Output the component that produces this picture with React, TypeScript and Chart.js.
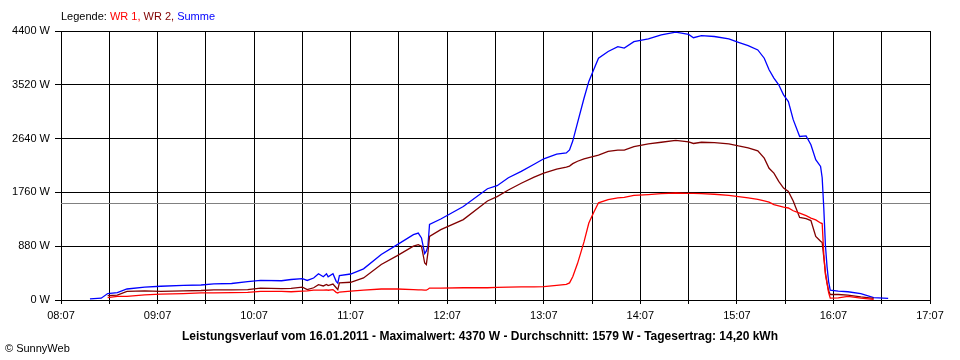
import React, { useEffect, useRef } from "react";
import { Chart, registerables } from "chart.js";

Chart.register(...registerables);

// Time of each reading (clock time)
const times = [
  "08:25", "08:32", "08:36", "08:42", "08:48", "08:59", "09:09", "09:23", "09:34", "09:42",
  "09:53", "10:03", "10:11", "10:24", "10:30", "10:37", "10:40", "10:44", "10:47", "10:50",
  "10:52", "10:53", "10:56", "10:58", "10:59", "11:00", "11:07", "11:15", "11:26", "11:36",
  "11:46", "11:49", "11:51", "11:53", "11:54", "11:55", "11:56", "12:03", "12:17", "12:32",
  "12:38", "12:45", "12:53", "13:01", "13:07", "13:15", "13:21", "13:23", "13:25", "13:28",
  "13:32", "13:35", "13:38", "13:41", "13:47", "13:53", "13:57", "14:03", "14:12", "14:20",
  "14:29", "14:37", "14:40", "14:45", "14:53", "15:02", "15:08", "15:14", "15:20", "15:24",
  "15:27", "15:30", "15:33", "15:36", "15:39", "15:42", "15:46", "15:50", "15:53", "15:56",
  "15:59", "16:00", "16:01", "16:02", "16:03", "16:04", "16:05", "16:10", "16:16", "16:24",
  "16:32", "16:41",
];

// WR 1 (W)
const wr1 = [
  null, null, 40, 60, 60, 85, 95, 105, 115, 115,
  120, 125, 140, 140, 135, 145, 150, 160, 160, 160,
  165, 160, 170, 125, 115, 130, 145, 160, 180, 180,
  170, 165, 165, 160, 160, 175, 195, 195, 200, 200,
  205, 210, 215, 215, 220, 240, 255, 280, 380, 600,
  950, 1260, 1430, 1590, 1640, 1670, 1680, 1710, 1725, 1740,
  1750, 1745, 1745, 1740, 1730, 1710, 1690, 1670, 1645, 1620,
  1600, 1560, 1540, 1520, 1505, 1460, 1420, 1380, 1340, 1310,
  1260, 1250, 750, 420, 280, 120, 30, 35, 60, 30,
  10, null,
];

// WR 2 (W)
const wr2 = [
  null, null, 70, 80, 140, 150, 140, 150, 155, 165,
  165, 170, 195, 185, 190, 210, 170, 200, 250, 230,
  255, 235, 260, 200, 170, 280, 290, 360, 580, 725,
  880, 905, 880, 605, 580, 770, 1040, 1150, 1315, 1620,
  1690, 1800, 1910, 2010, 2075, 2140, 2175, 2190, 2230, 2270,
  2310, 2330, 2350, 2370, 2430, 2450, 2450, 2510, 2555, 2580,
  2610, 2585, 2560, 2580, 2575, 2555, 2520, 2490, 2440, 2320,
  2155, 2075, 1940, 1830, 1775, 1620, 1350, 1330, 1300, 1040,
  960, 940, 700, 450, 280, 150, 90, 90, 80, 50,
  25, null,
];

// Summe (W)
const summe = [
  20, 30, 105, 120, 180, 210, 225, 240, 245, 265,
  270, 300, 320, 315, 335, 350, 320, 360, 430, 380,
  430, 380, 430, 305, 275, 400, 425, 510, 745, 905,
  1070, 1095, 1015, 760, 800, 880, 1235, 1325, 1530, 1820,
  1870, 2000, 2105, 2220, 2310, 2385, 2405, 2455, 2600, 2900,
  3300, 3575, 3765, 3955, 4065, 4145, 4120, 4225, 4270, 4335,
  4380, 4345, 4290, 4325, 4310, 4270, 4215, 4160, 4090, 3955,
  3765, 3630, 3520, 3355, 3245, 2950, 2675, 2685, 2540, 2295,
  2185, 2000, 1500, 900, 550, 300, 160, 145, 135, 105,
  40, 25,
];

const yTicks = [0, 880, 1760, 2640, 3520, 4400];
const xStart = "08:07";
const xEnd = "17:07";
const average = 1579;

const legendParts = [
  { text: "Legende: ", color: "#000000" },
  { text: "WR 1, ", color: "#ff0000" },
  { text: "WR 2, ", color: "#800000" },
  { text: "Summe", color: "#0000ff" },
];
const titleText =
  "Leistungsverlauf vom 16.01.2011 - Maximalwert: 4370 W - Durchschnitt: 1579 W - Tagesertrag: 14,20 kWh";
const copyright = "\u00A9 SunnyWeb";

const FONT = '"Liberation Sans", Arial, sans-serif';

const toMin = (t: string) => {
  const [h, m] = t.split(":").map(Number);
  return h * 60 + m;
};
const START = toMin(xStart);
const END = toMin(xEnd);
const fmt = (v: number) => {
  const t = START + v;
  const h = Math.floor(t / 60);
  const m = t % 60;
  return `${String(h).padStart(2, "0")}:${String(m).padStart(2, "0")}`;
};
const series = (vals: (number | null)[]) =>
  times.map((t, i) => ({ x: toMin(t) - START, y: vals[i] }));

const decorPlugin = {
  id: "decor",
  beforeDatasetsDraw(chart: any) {
    const { ctx, chartArea, scales } = chart;
    const y = Math.round(scales.y.getPixelForValue(average)) + 0.5;
    ctx.save();
    ctx.strokeStyle = "#808080";
    ctx.lineWidth = 1;
    ctx.beginPath();
    ctx.moveTo(chartArea.left, y);
    ctx.lineTo(chartArea.right, y);
    ctx.stroke();
    ctx.restore();
  },
  afterDraw(chart: any) {
    const { ctx } = chart;
    ctx.save();
    ctx.font = `11px ${FONT}`;
    ctx.textBaseline = "middle";
    ctx.textAlign = "left";
    let x = 61;
    for (const p of legendParts) {
      ctx.fillStyle = p.color;
      ctx.fillText(p.text, x, 17);
      x += ctx.measureText(p.text).width;
    }
    ctx.fillStyle = "#000";
    ctx.font = `bold 12px ${FONT}`;
    ctx.textAlign = "center";
    ctx.fillText(titleText, 480, 337);
    ctx.font = `11px ${FONT}`;
    ctx.textAlign = "left";
    ctx.fillText(copyright, 5, 349);
    ctx.restore();
  },
};

export default function App() {
  const ref = useRef<HTMLCanvasElement | null>(null);
  useEffect(() => {
    if (!ref.current) return;
    const chart = new Chart(ref.current, {
      type: "line",
      data: {
        datasets: [
          { label: "WR 1", data: series(wr1), borderColor: "#ff0000", backgroundColor: "#ff0000" },
          { label: "WR 2", data: series(wr2), borderColor: "#800000", backgroundColor: "#800000" },
          { label: "Summe", data: series(summe), borderColor: "#0000ff", backgroundColor: "#0000ff" },
        ] as any,
      },
      options: {
        animation: false,
        responsive: false,
        parsing: true,
        spanGaps: true,
        elements: {
          point: { radius: 0 },
          line: { borderWidth: 1.3, tension: 0 },
        },
        layout: { padding: { top: 31, right: 30, bottom: 0, left: 0 } },
        plugins: { legend: { display: false }, tooltip: { enabled: false } },
        scales: {
          x: {
            type: "linear",
            min: 0,
            max: END - START,
            afterFit: (s: any) => {
              s.height = 60;
            },
            afterBuildTicks: (s: any) => {
              const arr = [];
              for (let v = 0; v <= END - START; v += 30) arr.push({ value: v });
              s.ticks = arr;
            },
            border: { display: false },
            grid: { color: "#000", lineWidth: 1, tickLength: 4, drawTicks: true },
            ticks: {
              autoSkip: false,
              maxRotation: 0,
              padding: 5,
              color: "#000",
              font: { family: FONT, size: 11 },
              callback: (v: any) => (Number(v) % 60 === 0 ? fmt(Number(v)) : ""),
            },
          },
          y: {
            min: 0,
            max: 4400,
            afterFit: (s: any) => {
              s.width = 61;
            },
            afterBuildTicks: (s: any) => {
              s.ticks = yTicks.map((v) => ({ value: v }));
            },
            border: { display: false },
            grid: { color: "#000", lineWidth: 1, tickLength: 6 },
            ticks: {
              padding: 5,
              color: "#000",
              font: { family: FONT, size: 11 },
              callback: (v: any) => `${v} W`,
            },
          },
        },
      },
      plugins: [decorPlugin],
    });
    return () => chart.destroy();
  }, []);
  return (
    <div style={{ position: "fixed", left: 0, top: 0, width: 960, height: 360, background: "#fff" }}>
      <canvas ref={ref} width={960} height={360} style={{ width: 960, height: 360 }} />
    </div>
  );
}
